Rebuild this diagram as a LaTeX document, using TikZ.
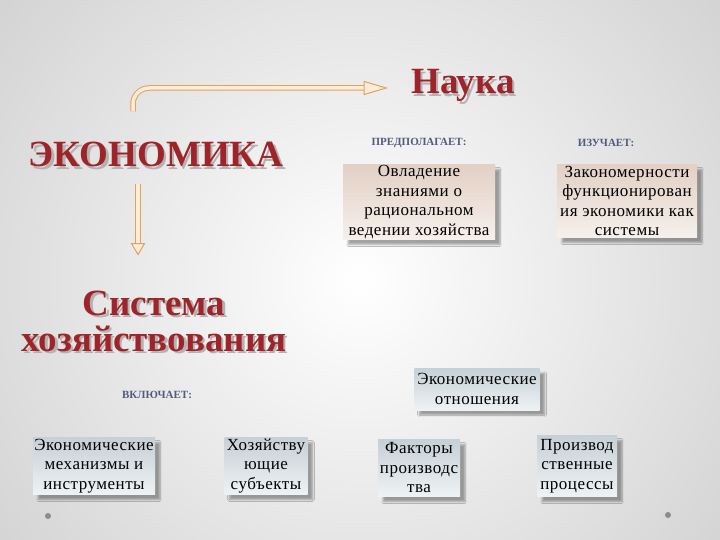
\documentclass[tikz,border=0pt]{standalone}
\usepackage{fontspec}
\setmainfont{Liberation Serif}
\newfontfamily\titlefont{Liberation Serif}
\newfontfamily\boxfont{Liberation Serif}[LetterSpace=3]
\usetikzlibrary{shadows.blur,calc}
\definecolor{titlered}{RGB}{158,36,42}
\definecolor{labelblue}{RGB}{80,92,125}
\definecolor{arrowline}{RGB}{228,160,96}
\definecolor{arrowfill}{RGB}{253,236,214}
\definecolor{warmtop}{RGB}{226,208,196}
\definecolor{warmbot}{RGB}{246,240,236}
\definecolor{cooltop}{RGB}{198,208,214}
\definecolor{coolbot}{RGB}{238,242,244}
\tikzset{
  title/.style={font=\titlefont\bfseries\fontsize{37}{36}\selectfont, text=titlered, inner sep=0pt},
  titleshadow/.style={title, text=black!30},
  lbl/.style={font=\bfseries\fontsize{11}{12}\selectfont, text=labelblue, inner sep=0pt},
  box/.style={inner sep=0pt, align=center, font=\boxfont\fontsize{17}{19.5}\selectfont,
    blur shadow={shadow xshift=5pt, shadow yshift=-5pt, shadow blur steps=6, shadow opacity=35}},
  warmbox/.style={box, top color=warmtop, bottom color=warmbot},
  coolbox/.style={box, top color=cooltop, bottom color=coolbot},
  shaft/.style={draw=arrowline, line width=1pt, double=arrowfill, double distance=3.5pt},
  head/.style={draw=arrowline, fill=arrowfill, line width=1pt, line join=miter},
  dot/.style={circle, fill=black!45, inner sep=0pt, minimum size=6pt}
}
\begin{document}
\begin{tikzpicture}[x=1pt,y=-1pt]
\useasboundingbox (0,0) rectangle (720,540);
\begin{scope}
\clip (0,0) rectangle (720,540);
\shade[inner color=white, outer color=black!22] (-230,-300) rectangle (950,860);
\end{scope}

% titles
\node[titleshadow, anchor=base] at (465.5,96.5) {Наука};
\node[title, anchor=base] (nauka) at (463,94) {Наука};
\node[titleshadow, anchor=base] at (158.5,169.5) {ЭКОНОМИКА};
\node[title, anchor=base] (eko) at (156,167) {ЭКОНОМИКА};
\node[titleshadow, align=center] at (156.5,323.5) {Система\\хозяйствования};
\node[title, align=center] (sys) at (154,321) {Система\\хозяйствования};

% labels
\node[lbl] (l1) at (419,143) {ПРЕДПОЛАГАЕТ:};
\node[lbl] (l2) at (606,143) {ИЗУЧАЕТ:};
\node[lbl] (l3) at (157,395) {ВКЛЮЧАЕТ:};

% boxes
\node[warmbox, minimum width=152pt, minimum height=75pt] (b1) at (419,202)
  {Овладение\\знаниями о\\рациональном\\ведении хозяйства};
\node[warmbox, minimum width=140pt, minimum height=73pt] (b2) at (627,201)
  {Закономерности\\функционирован\\ия экономики как\\системы};
\node[coolbox, minimum width=125pt, minimum height=42pt] (eo) at (477,389)
  {Экономические\\отношения};
\node[coolbox, minimum width=122pt, minimum height=57pt] (mech) at (94,466)
  {Экономические\\механизмы и\\инструменты};
\node[coolbox, minimum width=83pt, minimum height=57pt] (hoz) at (266,466)
  {Хозяйству\\ющие\\субъекты};
\node[coolbox, minimum width=82pt, minimum height=57pt] (fak) at (419,468)
  {Факторы\\производс\\тва};
\node[coolbox, minimum width=80pt, minimum height=61pt] (proc) at (577,466)
  {Производ\\ственные\\процессы};

% connectors
\coordinate (s1) at ([xshift=-23pt, yshift=31pt]eko.north);
\coordinate (e1) at ([xshift=-45pt, yshift=6pt]nauka.base west);
\draw[shaft, rounded corners=16pt] (s1) |- (e1);
\draw[head] (e1) ++(-2,-6.5) -- ++(22,6.5) -- ++(-22,6.5) -- cycle;

\coordinate (s2) at ([xshift=-18pt, yshift=-16pt]eko.south);
\coordinate (e2) at ([xshift=-18pt, yshift=-78pt]eko.south);
\draw[shaft] (s2) -- (e2);
\draw[head] (e2) ++(-6.5,-2) -- ++(6.5,11) -- ++(6.5,-11) -- cycle;

% dots
\node[dot] (d1) at (48,516) {};
\node[dot] (d2) at (668,515) {};
\end{tikzpicture}
\end{document}
